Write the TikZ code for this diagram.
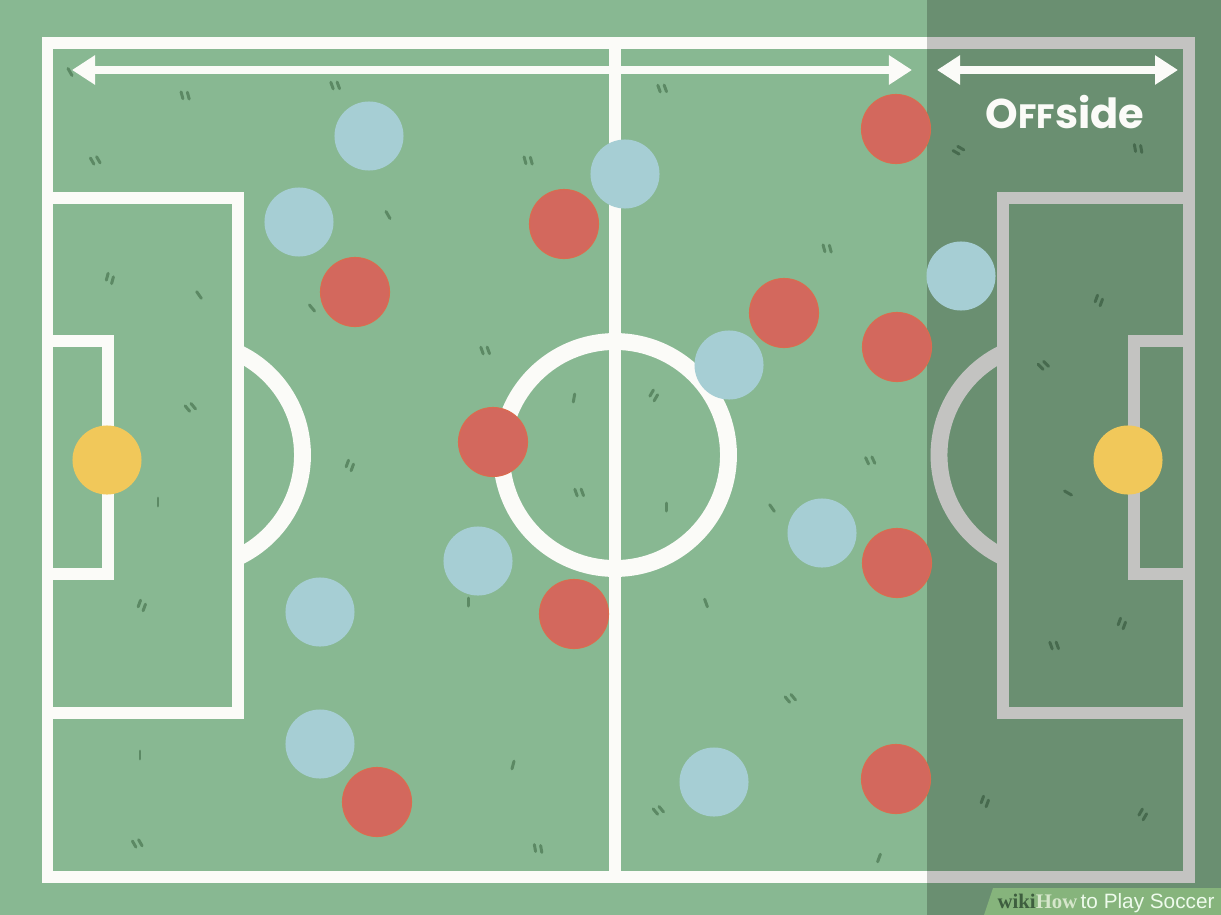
\documentclass[tikz,border=0pt]{standalone}
\usepackage{fontspec}
\newfontfamily\handfont{Poppins}
\newfontfamily\wikiserif{Liberation Serif}
\newfontfamily\wikisans{Liberation Sans}
\usetikzlibrary{arrows.meta}

\definecolor{pitch}{HTML}{88B892}
\definecolor{lineWhite}{HTML}{FBFBF8}
\definecolor{grassGreen}{HTML}{5C8964}
\definecolor{teamBlue}{HTML}{A6CED4}
\definecolor{teamRed}{HTML}{D3685D}
\definecolor{keeperYellow}{HTML}{F1C85A}
\definecolor{bannerGreen}{HTML}{86B47C}
\definecolor{wikiDark}{HTML}{3E5E3F}
\definecolor{wikiLight}{HTML}{D5E6CB}

\begin{document}
\begin{tikzpicture}[
		x=0.01cm,
		y=-0.01cm,
		pitchline/.style={draw=lineWhite, line width=3.2pt},
		arcline/.style={draw=lineWhite, line width=4.8pt},
		grass/.style={draw=grassGreen, line width=0.85pt, line cap=round},
		player/.style={circle, inner sep=0pt, minimum size=0.69cm},
		blue/.style={player, fill=teamBlue},
		red/.style={player, fill=teamRed, draw=teamRed!85!orange, line width=0.3pt},
		keeper/.style={player, fill=keeperYellow},
		span/.style={draw=lineWhite, line width=2.3pt, {Triangle[length=0.23cm,width=0.28cm]}-{Triangle[length=0.23cm,width=0.28cm]}}
		]
		% Grass
		\useasboundingbox (0,0) rectangle (1221,915);
		\fill[pitch] (0,0) rectangle (1221,915);
		\foreach \gx/\gy/\ga in {185/95/15, 335/85/20, 95/160/30, 528/160/15, 662/88/20,
			110/278/-15, 485/350/20, 190/407/40, 350/465/-20, 142/605/-20, 137/843/30,
			654/395/-30, 579/492/20, 870/460/25, 790/698/40, 538/848/10, 658/810/40,
			1122/623/-20, 1054/645/20, 985/801/-20, 1143/814/-30, 1099/300/-20,
			1043/365/45, 827/248/15, 958/150/60, 1138/148/10}
			\draw[grass, rotate around={\ga:(\gx,\gy)}] (\gx-3,\gy-4) -- (\gx-3,\gy+3) (\gx+3,\gy-2) -- (\gx+3,\gy+5);
		\foreach \gx/\gy/\ga in {70/72/30, 388/215/30, 199/295/35, 312/308/40, 158/502/0,
			140/755/0, 574/398/-10, 666/507/0, 772/508/35, 706/603/20, 468/602/0,
			513/765/-15, 879/858/-20, 1068/493/60}
			\draw[grass, rotate around={\ga:(\gx,\gy)}] (\gx,\gy-4) -- (\gx,\gy+4);
		
		% Markings
		\draw[pitchline] (47.5,43) rectangle (1189,877);
		\draw[pitchline] (615,43) -- (615,877);
		\draw[arcline] (615,455) circle[radius=113.5];
		\draw[pitchline] (47.5,198) rectangle (238,713);
		\draw[pitchline] (47.5,341) rectangle (108,574);
		\draw[pitchline] (1189,198) rectangle (1003,713);
		\draw[pitchline] (1189,341) rectangle (1134,574);
		\begin{scope}
			\clip (238,0) rectangle (400,915);
			\draw[arcline] (189.5,455) circle[radius=113];
		\end{scope}
		\begin{scope}
			\clip (850,0) rectangle (1003,915);
			\draw[arcline] (1052,455) circle[radius=113];
		\end{scope}
		
		% Offside zone
		\fill[black, fill opacity=0.22] (927,0) rectangle (1221,915);
		\fill[bannerGreen] (993,888) -- (1221,888) -- (1221,915) -- (984,915) -- cycle;
		\node[anchor=base west, inner sep=0pt, font=\fontsize{5.9}{6}\selectfont] (brand) at (997,908)
			{{\wikiserif\bfseries\color{wikiDark}wiki}{\wikiserif\bfseries\color{wikiLight}How}\,{\wikisans\color{lineWhite!95!green}to Play Soccer}};
		
		% Keepers
		\node[keeper] (keepL) at (107,460) {};
		\node[keeper] (keepR) at (1128,460) {};
		
		% Blue team
		\node[blue] (blue1) at (369,136) {};
		\node[blue] (blue2) at (299,222) {};
		\node[blue] (blue3) at (625,174) {};
		\node[blue] (blue4) at (961,276) {};
		\node[blue] (blue5) at (729,365) {};
		\node[blue] (blue6) at (478,561) {};
		\node[blue] (blue7) at (822,533) {};
		\node[blue] (blue8) at (320,612) {};
		\node[blue] (blue9) at (320,744) {};
		\node[blue] (blue10) at (714,782) {};
		
		% Red team
		\node[red] (red1) at (896,129) {};
		\node[red] (red2) at (564,224) {};
		\node[red] (red3) at (355,292) {};
		\node[red] (red4) at (784,313) {};
		\node[red] (red5) at (897,347) {};
		\node[red] (red6) at (493,442) {};
		\node[red] (red7) at (897,563) {};
		\node[red] (red8) at (574,614) {};
		\node[red] (red9) at (377,802) {};
		\node[red] (red10) at (896,779) {};
		
		% Arrows
		\coordinate (fieldL) at (72,70);
		\coordinate (fieldR) at (912,70);
		\coordinate (offL) at (937,70);
		\coordinate (offR) at (1178,70);
		\draw[span] (fieldL) -- (fieldR);
		\draw[span] (offL) -- (offR);
		\node[text=lineWhite, font=\handfont\bfseries\fontsize{11.8}{12}\selectfont] (offside) at (1065,112)
			{O{\fontsize{9.6}{10}\selectfont FF}side};
	\end{tikzpicture}
\end{document}
